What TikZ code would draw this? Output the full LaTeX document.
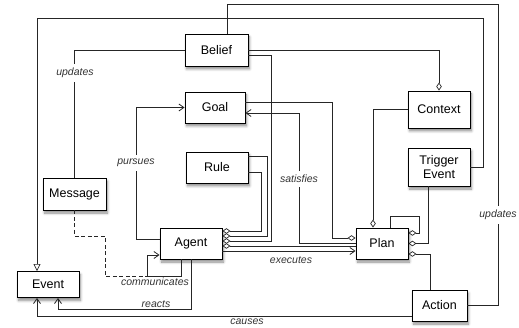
\documentclass[tikz,border=0pt]{standalone}
\usepackage{fontspec}
\setmainfont{Liberation Sans}
\usetikzlibrary{arrows.meta,shadows.blur}

\tikzset{
  box/.style={draw=black, line width=0.9pt, fill=white, inner sep=0pt,
    align=center, font=\fontsize{12.5}{14}\selectfont,
    blur shadow={shadow xshift=1.5pt, shadow yshift=-3pt, shadow opacity=45,
      shadow blur steps=6, shadow blur radius=2.5pt}},
  conn/.style={draw=black!85, line width=0.8pt},
  arr/.style={conn, -{Straight Barb[length=5pt,width=7pt,line width=0.8pt]}},
  agg/.style={conn, {Diamond[open,fill=white,length=8pt,width=5.5pt,line width=0.7pt]}-},
  gen/.style={conn, -{Triangle[open,fill=white,length=7pt,width=7pt,line width=0.7pt]}},
  lbl/.style={font=\fontsize{10.5}{12}\selectfont\itshape, text=black!80, inner sep=1pt},
  gaplbl/.style={lbl, fill=white, inner ysep=4pt}
}

\begin{document}
\begin{tikzpicture}[x=1pt, y=-1pt]
\useasboundingbox (0,0) rectangle (519,328);

% classes
\node[box, minimum width=63pt, minimum height=32pt] (belief)  at (216.5,50)   {Belief};
\node[box, minimum width=60pt, minimum height=31pt] (goal)    at (215,107.5)  {Goal};
\node[box, minimum width=62pt, minimum height=31pt] (rule)    at (217,167.5)  {Rule};
\node[box, minimum width=62pt, minimum height=31pt] (agent)   at (191,243.5)  {Agent};
\node[box, minimum width=63pt, minimum height=32pt] (message) at (74.5,194)   {Message};
\node[box, minimum width=62pt, minimum height=26pt] (event)   at (48,284.5)   {Event};
\node[box, minimum width=62pt, minimum height=37pt] (context) at (439,109.5)  {Context};
\node[box, minimum width=62pt, minimum height=38pt] (trigger) at (439,167)    {Trigger\\Event};
\node[box, minimum width=52pt, minimum height=31pt] (plan)    at (382,243.5)  {Plan};
\node[box, minimum width=55pt, minimum height=31pt] (action)  at (439.5,305.5){Action};

% Action updates Belief
\draw[conn] (action.east) -- (498,305.5) -- (498,4) -| ([xshift=10.5pt]belief.north);
\node[gaplbl] (lupd2) at (498,215) {updates};

% Trigger Event specialises Event
\draw[gen] (trigger.east) -- (483,167) -- (483,18) -| ([xshift=-11pt]event.north);

% Message updates Belief
\draw[conn] (belief.west) -| (message.north);
\node[gaplbl] (lupd1) at (75,73) {updates};

% Context aggregates Belief
\draw[agg] (context.north) |- (belief.east);

% Agent aggregates Rule, Belief and Plan
\draw[agg] ([yshift=12.5pt]agent.east) -- (261,231) |- ([yshift=-4.5pt]rule.east);
\draw[agg] ([yshift=7.5pt]agent.east) -- (267,236) |- ([yshift=11.5pt]rule.east);
\draw[agg] ([yshift=2.5pt]agent.east) -- (271,241) |- ([yshift=-5pt]belief.east);
\draw[agg] ([yshift=-2.5pt]agent.east) -- ([yshift=-2.5pt]plan.west);

% Agent executes Plan
\draw[arr] ([yshift=-7.5pt]agent.east) -- ([yshift=-7.5pt]plan.west);
\node[lbl] (lexe) at (291,260.5) {executes};

% Plan aggregates Goal; Plan satisfies Goal
\draw[agg] ([yshift=5.5pt]plan.west) -- (332,238) |- ([yshift=5.5pt]goal.east);
\draw[arr] ([yshift=0.5pt]plan.west) -- (299,243) |- ([yshift=-5.5pt]goal.east);
\node[gaplbl] (lsat) at (299,179) {satisfies};

% Plan aggregates Context, itself, Trigger Event and Action
\draw[agg] ([xshift=-9pt]plan.north) |- (context.west);
\draw[agg] ([yshift=10.5pt]plan.east) -- (419,233) -- (419,216) -| ([xshift=8pt]plan.north);
\draw[agg] (plan.east) -| ([xshift=-11pt]trigger.south);
\draw[agg] ([yshift=-10.5pt]plan.east) -| ([xshift=-9.5pt]action.north);

% Agent pursues Goal
\draw[arr] ([yshift=4.5pt]agent.west) -- (136,239) |- (goal.west);
\node[gaplbl] (lpur) at (136,163) {pursues};

% Agent communicates with Agent, Message as association class
\draw[arr] ([xshift=-10pt]agent.south) -- (181,276) -- (147,276) coordinate (comm) |- ([yshift=-11.5pt]agent.west);
\draw[conn, dashed, dash pattern=on 4pt off 2.5pt] (message.south) -- (74.5,236) -| (105,276) -- (comm);
\node[lbl] (lcom) at (155,281.5) {communicates};

% Agent reacts to Event
\draw[arr] (agent.south) -- (191,309) -| ([xshift=10pt]event.south);
\node[lbl] (lrea) at (156,304) {reacts};

% Action causes Event
\draw[arr] ([yshift=-10.5pt]action.west) -| ([xshift=-11pt]event.south);
\node[lbl] (lcau) at (247,322) {causes};
\end{tikzpicture}
\end{document}
